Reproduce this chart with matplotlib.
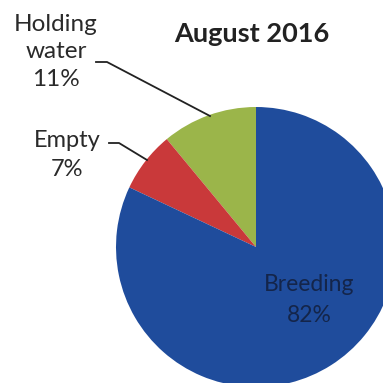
import matplotlib.pyplot as plt

labels = ["Holding water", "Empty", "Breeding"]
shares = [11, 7, 82]
colors = ["#9bb54a", "#c9393a", "#1f4c9c"]

plt.rcParams['font.family'] = ['Lato', 'DejaVu Sans']

fig = plt.figure(figsize=(3.83, 3.83), dpi=100)
ax = fig.add_axes([0, 0, 1, 1])

# pie in pixel-like coords (y up)
cx, cy, r = 256, 383 - 247, 140
ax.pie(shares, colors=colors, startangle=90, counterclock=True,
       center=(cx, cy), radius=r, frame=True,
       wedgeprops=dict(linewidth=0))
ax.set_xlim(0, 383)
ax.set_ylim(0, 383)
ax.set_aspect('equal')
ax.axis('off')

ax.text(252, 383 - 34, "August 2016", ha='center', va='center',
        fontsize=19.5, fontweight='bold', color='#222222')

ax.text(56, 383 - 52, "Holding\nwater\n" + str(shares[0]) + "%", ha='center', va='center',
        fontsize=17.5, color='#2a2a2a', linespacing=1.38)
ax.plot([96, 107, 210], [383 - 62, 383 - 62, 383 - 116], color='#222222', lw=1.3)

ax.text(67, 383 - 155, "Empty\n" + str(shares[1]) + "%", ha='center', va='center',
        fontsize=17, color='#2a2a2a', linespacing=1.45)
ax.plot([109, 119, 147], [383 - 143, 383 - 143, 383 - 160], color='#222222', lw=1.3)

ax.text(309, 383 - 300, "Breeding\n" + str(shares[2]) + "%", ha='center', va='center',
        fontsize=16.5, color='#14254a', linespacing=1.55)

fig.savefig("out.png", dpi=100)
